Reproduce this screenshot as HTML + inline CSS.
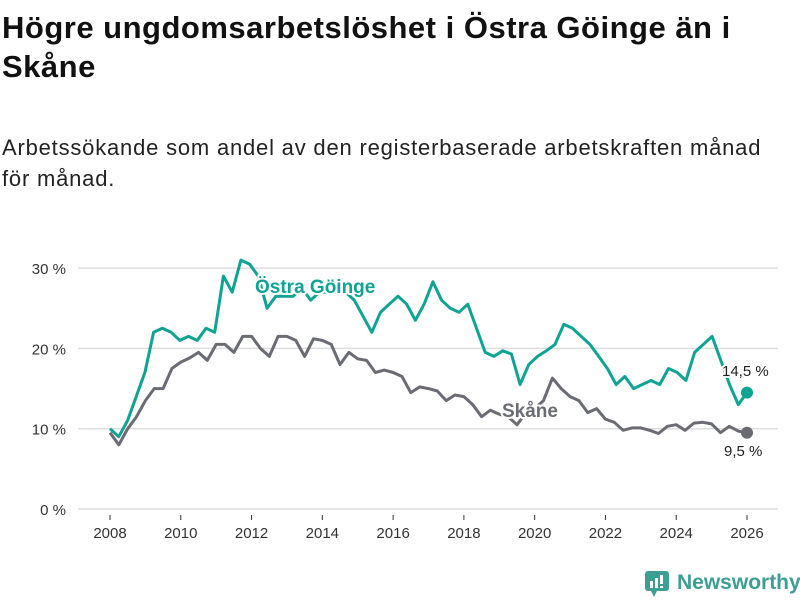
<!DOCTYPE html>
<html><head><meta charset="utf-8">
<style>
body{margin:0;background:#fff;font-family:"Liberation Sans",sans-serif;}
#wrap{position:relative;width:800px;height:600px;overflow:hidden;}
h1{position:absolute;left:2px;top:8px;margin:0;font-size:31px;line-height:39px;font-weight:bold;color:#111;width:798px;white-space:nowrap;letter-spacing:0.5px;}
.sub{position:absolute;left:2px;top:132px;margin:0;font-size:22px;line-height:31px;color:#222;width:798px;white-space:nowrap;letter-spacing:0.8px;}
svg{position:absolute;left:0;top:0;}
</style></head>
<body>
<div id="wrap">
<h1>Högre ungdomsarbetslöshet i Östra Göinge än i<br>Skåne</h1>
<p class="sub">Arbetssökande som andel av den registerbaserade arbetskraften månad<br>för månad.</p>
<svg id="chart" width="800" height="600"></svg>
<div style="position:absolute;left:645px;top:569px;height:28px;display:flex;align-items:center;">
<svg width="24" height="28" style="position:static"><rect x="0" y="2" width="24" height="20" rx="3" fill="#3d9e94"/><polygon points="6,22 12,22 9,28" fill="#3d9e94"/><rect x="5" y="12" width="3" height="7" fill="#fff"/><rect x="10" y="9" width="3" height="10" fill="#fff"/><rect x="15" y="6" width="3" height="9" fill="#fff"/><rect x="15" y="17" width="3" height="2" fill="#fff"/></svg>
<span style="margin-left:8px;font-size:21px;color:#3d9e94;font-weight:bold;">Newsworthy</span>
</div>
</div>
<script>
const startYear = 2008;
const endYear = 2026;
const yTicks = [0, 10, 20, 30];
const xTicks = [2008, 2010, 2012, 2014, 2016, 2018, 2020, 2022, 2024, 2026];
const goinge = [10,9,11,14,17,22,22.5,22,21,21.5,21,22.5,22,29,27,31,30.5,29,25,26.5,26.5,26.5,27.5,26,27,27,27,27,26,24,22,24.5,25.5,26.5,25.5,23.5,25.5,28.3,26,25,24.5,25.5,22.5,19.5,19,19.7,19.3,15.5,18,19,19.7,20.5,23,22.5,21.5,20.5,19,17.5,15.5,16.5,15,15.5,16,15.5,17.5,17,16,19.5,20.5,21.5,18.5,15.5,13,14.5];
const skane = [9.5,8,10,11.5,13.5,15,15,17.5,18.3,18.8,19.5,18.5,20.5,20.5,19.5,21.5,21.5,20,19,21.5,21.5,21,19,21.2,21,20.5,18,19.5,18.7,18.5,17,17.3,17,16.5,14.5,15.2,15,14.7,13.5,14.2,14,13,11.5,12.3,11.8,11.5,10.5,12,12.5,13.5,16.3,15,14,13.5,12,12.5,11.2,10.8,9.8,10.1,10.1,9.8,9.4,10.3,10.5,9.8,10.7,10.8,10.6,9.5,10.3,9.7,9.5];
const NS="http://www.w3.org/2000/svg";
const svg=document.getElementById('chart');
const xs=yr=>110+(yr-2008)*(747-110)/18;
const ys=v=>509-v*8.03;
function el(t,a){const e=document.createElementNS(NS,t);for(const k in a)e.setAttribute(k,a[k]);svg.appendChild(e);return e;}
yTicks.forEach(v=>{
 const g=el('line',{x1:78,x2:778,y1:ys(v),y2:ys(v),stroke:'#ddd','stroke-width':1.5});
 
 
 const t=el('text',{x:66,y:ys(v)+6,'text-anchor':'end','font-size':15,fill:'#333'});
 t.textContent=v+' %';
 
 
});
xTicks.forEach(v=>{
 const tk=el('line',{x1:xs(v),x2:xs(v),y1:515,y2:520,stroke:'#333','stroke-width':1});
 
 
 const t=el('text',{x:xs(v),y:538,'text-anchor':'middle','font-size':15,fill:'#333'});
 t.textContent=v;
 
 
});
function line(arr,color,name){
 const step=(endYear-startYear)/(arr.length-1);
 const d=arr.map((v,i)=>(i?'L':'M')+xs(startYear+i*step).toFixed(1)+','+ys(v).toFixed(1)).join('');
 const p=el('path',{d:d,fill:'none',stroke:color,'stroke-width':3,'stroke-linejoin':'round'});
 
 
 const last=arr.length-1;
 const c=el('circle',{cx:xs(startYear+last*step),cy:ys(arr[last]),r:6,fill:color});
 
 
}
line(skane,'#6b6b73','skane-line');
line(goinge,'#0fa394','goinge-line');
function label(txt,x,y,color,size,bold,name){
 const t=el('text',{x:x,y:y,'font-size':size,'font-weight':bold?'bold':'normal',fill:color,stroke:'#fff','stroke-width':4,'paint-order':'stroke','stroke-linejoin':'round'});
 t.textContent=txt;
 
 
}
label('Östra Göinge',255,293,'#0fa394',19,true,'goinge-series-label');
label('Skåne',502,417,'#6b6b73',19,true,'skane-series-label');
label('14,5 %',722,376,'#222',15,false,'goinge-end-value');
label('9,5 %',724,456,'#222',15,false,'skane-end-value');
</script>
</body></html>
